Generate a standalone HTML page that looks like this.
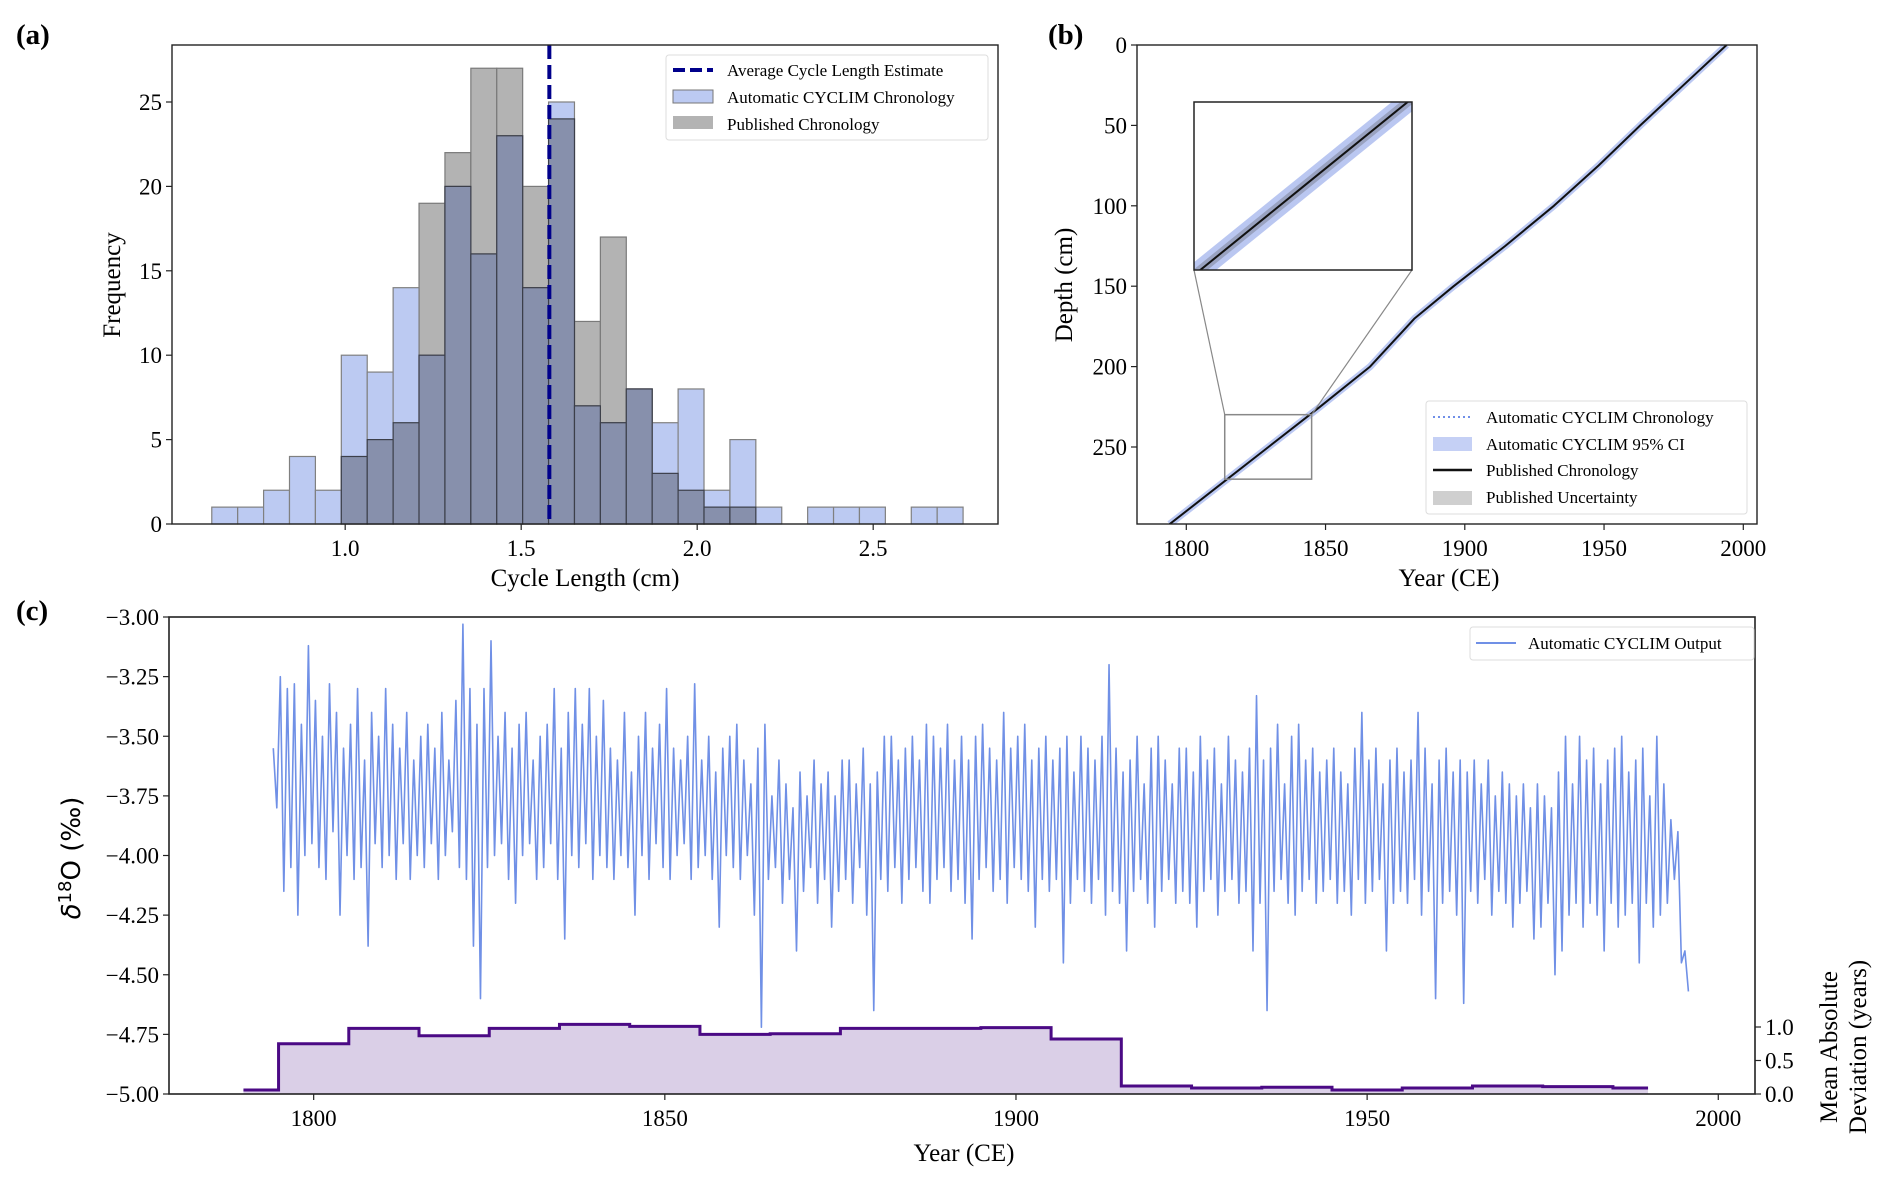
<!DOCTYPE html>
<html><head><meta charset="utf-8">
<style>
html,body{margin:0;padding:0;background:#fff;}
svg{display:block;font-family:"Liberation Serif",serif;}
</style></head>
<body>
<svg id="fig" width="1892" height="1182" viewBox="0 0 1892 1182"></svg>
<script>
// ---- Panel (a) data ----
const binStart = 0.621;
const binWidth = 0.0736;
const autoCounts = [1,1,2,4,2,10,9,14,10,20,16,23,14,25,7,6,8,6,8,2,5,1,0,1,1,1,0,1,1];
const pubCounts  = [0,0,0,0,0,4,5,6,19,22,27,27,20,24,12,17,8,3,2,1,1,0,0,0,0,0,0,0,0];
const avgCycle = 1.58;
const aXTicks = [1.0,1.5,2.0,2.5];
const aYTicks = [0,5,10,15,20,25];
// ---- Panel (b) data ----
const bDepths = [0,25,50,75,100,125,150,170,185,200,225,250,275,298];
const bYears  = [1994,1978.5,1963,1948,1932,1914.5,1896,1882,1874,1866,1848,1829.5,1811,1794];
const bXTicks = [1800,1850,1900,1950,2000];
const bYTicks = [0,50,100,150,200,250];
// ---- Panel (c) data ----
const cStartYear = 1794;
const yearHigh = [
-3.55,-3.25,-3.30,-3.28,-3.45,-3.12,-3.35,-3.50,-3.28,-3.40,
-3.55,-3.45,-3.30,-3.60,-3.40,-3.50,-3.30,-3.45,-3.55,-3.40,
-3.60,-3.50,-3.45,-3.55,-3.40,-3.60,-3.35,-3.03,-3.30,-3.45,
-3.30,-3.10,-3.50,-3.40,-3.55,-3.45,-3.40,-3.60,-3.50,-3.45,
-3.30,-3.55,-3.40,-3.30,-3.45,-3.30,-3.50,-3.35,-3.55,-3.60,
-3.40,-3.65,-3.50,-3.40,-3.55,-3.45,-3.30,-3.55,-3.60,-3.50,
-3.28,-3.60,-3.50,-3.65,-3.55,-3.50,-3.45,-3.60,-3.70,-3.55,
-3.45,-3.75,-3.60,-3.70,-3.80,-3.65,-3.75,-3.60,-3.70,-3.65,
-3.75,-3.60,-3.60,-3.70,-3.55,-3.70,-3.65,-3.50,-3.50,-3.60,
-3.55,-3.50,-3.60,-3.45,-3.50,-3.55,-3.45,-3.60,-3.50,-3.60,
-3.50,-3.45,-3.55,-3.60,-3.40,-3.55,-3.50,-3.45,-3.60,-3.55,
-3.50,-3.60,-3.55,-3.50,-3.65,-3.50,-3.55,-3.60,-3.50,-3.20,
-3.55,-3.65,-3.60,-3.50,-3.70,-3.55,-3.50,-3.60,-3.70,-3.55,
-3.55,-3.65,-3.50,-3.60,-3.55,-3.70,-3.50,-3.60,-3.65,-3.55,
-3.33,-3.60,-3.55,-3.45,-3.70,-3.50,-3.45,-3.60,-3.55,-3.65,
-3.60,-3.55,-3.65,-3.70,-3.55,-3.40,-3.60,-3.55,-3.70,-3.60,
-3.55,-3.65,-3.60,-3.40,-3.55,-3.70,-3.60,-3.55,-3.65,-3.60,
-3.65,-3.60,-3.70,-3.60,-3.75,-3.65,-3.70,-3.75,-3.70,-3.80,
-3.70,-3.75,-3.80,-3.65,-3.50,-3.70,-3.50,-3.60,-3.55,-3.70,
-3.60,-3.55,-3.50,-3.65,-3.60,-3.55,-3.75,-3.50,-3.70,-3.85,
-3.90,-4.40];
const yearLow = [
-3.80,-4.15,-4.05,-4.25,-4.00,-3.95,-4.05,-4.10,-3.90,-4.25,
-4.00,-4.10,-4.05,-4.38,-3.95,-4.05,-4.00,-4.10,-3.95,-4.10,
-4.00,-4.05,-3.95,-4.10,-4.00,-3.90,-4.05,-4.10,-4.38,-4.60,
-4.05,-4.00,-3.95,-4.10,-4.20,-4.00,-3.95,-4.10,-4.05,-3.95,
-4.10,-4.35,-4.00,-4.05,-3.95,-4.10,-4.00,-4.05,-4.10,-4.00,
-4.05,-4.25,-4.00,-4.10,-3.95,-4.05,-4.10,-4.00,-3.95,-4.10,
-4.05,-4.00,-4.10,-4.30,-4.00,-4.05,-4.10,-4.00,-4.25,-4.72,
-4.10,-4.05,-4.20,-4.10,-4.40,-4.15,-4.05,-4.20,-4.10,-4.30,
-4.15,-4.10,-4.20,-4.05,-4.25,-4.65,-4.10,-4.15,-4.05,-4.20,
-4.10,-4.05,-4.15,-4.20,-4.10,-4.05,-4.15,-4.10,-4.20,-4.35,
-4.10,-4.05,-4.15,-4.10,-4.20,-4.05,-4.10,-4.15,-4.30,-4.10,
-4.15,-4.10,-4.45,-4.20,-4.10,-4.15,-4.20,-4.10,-4.25,-4.15,
-4.20,-4.40,-4.15,-4.10,-4.20,-4.30,-4.15,-4.10,-4.20,-4.15,
-4.20,-4.30,-4.15,-4.10,-4.25,-4.15,-4.10,-4.20,-4.15,-4.40,
-4.20,-4.65,-4.15,-4.10,-4.20,-4.25,-4.15,-4.10,-4.20,-4.15,
-4.10,-4.20,-4.15,-4.25,-4.10,-4.20,-4.15,-4.10,-4.40,-4.20,
-4.15,-4.20,-4.10,-4.25,-4.15,-4.60,-4.20,-4.15,-4.25,-4.62,
-4.15,-4.20,-4.10,-4.25,-4.15,-4.20,-4.30,-4.20,-4.15,-4.35,
-4.30,-4.20,-4.50,-4.40,-4.25,-4.20,-4.30,-4.20,-4.25,-4.40,
-4.20,-4.30,-4.25,-4.20,-4.45,-4.20,-4.30,-4.25,-4.20,-4.10,
-4.45,-4.57];
const madEdges = [1790,1795,1805,1815,1825,1835,1845,1855,1865,1875,1885,1895,1905,1915,1925,1935,1945,1955,1965,1975,1985,1990];
const madValues = [0.06,0.75,0.98,0.87,0.98,1.04,1.01,0.89,0.90,0.98,0.98,0.99,0.82,0.12,0.09,0.10,0.06,0.09,0.12,0.11,0.09];
const cXTicks = [1800,1850,1900,1950,2000];
const cYTicks = [-3.00,-3.25,-3.50,-3.75,-4.00,-4.25,-4.50,-4.75,-5.00];
const cRTicks = [0.0,0.5,1.0];

const NS = "http://www.w3.org/2000/svg";
const svg = document.getElementById('fig');
function mk(tag, attrs, parent){
  const e = document.createElementNS(NS, tag);
  for (const k in attrs) e.setAttribute(k, attrs[k]);
  (parent||svg).appendChild(e);
  return e;
}
function txt(s, attrs, parent){ const e = mk('text', attrs, parent); e.textContent = s; return e; }

const A = {l:172,r:998,t:45,b:524};
const xA = v => A.l + (v-0.508)*352;
const yA = f => A.b - f*16.88;
const B = {l:1137,r:1757,t:45,b:524};
const xB = yr => B.l + (yr-1782.3)*2.785;
const yB = d => B.t + d*1.608;
const C = {l:169,r:1755,t:617,b:1094};
const xC = yr => C.l + (yr-1779.4)*7.023;
const yC = v => C.t + (-3 - v)*238.5;
const yR = m => C.b - m*67;

// ========== Panel (a) ==========
let e;
e = txt('(a)', {x:16,y:44,'font-size':29,'font-weight':'bold'});
 
const gA = mk('g',{});
 
for (let i=0;i<pubCounts.length;i++){
  if (!pubCounts[i]) continue;
  const x0 = xA(binStart+i*binWidth), x1 = xA(binStart+(i+1)*binWidth);
  e = mk('rect',{x:x0,y:yA(pubCounts[i]),width:x1-x0,height:yA(0)-yA(pubCounts[i]),fill:'#b3b3b3',stroke:'#7a7a7a','stroke-width':1.2},gA);
   
}
for (let i=0;i<autoCounts.length;i++){
  if (!autoCounts[i]) continue;
  const x0 = xA(binStart+i*binWidth), x1 = xA(binStart+(i+1)*binWidth);
  e = mk('rect',{x:x0,y:yA(autoCounts[i]),width:x1-x0,height:yA(0)-yA(autoCounts[i]),fill:'#bccaf2',stroke:'#808080','stroke-width':1.2},gA);
   
}
for (let i=0;i<autoCounts.length;i++){
  const m = Math.min(autoCounts[i],pubCounts[i]);
  if (!m) continue;
  const x0 = xA(binStart+i*binWidth), x1 = xA(binStart+(i+1)*binWidth);
  e = mk('rect',{x:x0,y:yA(m),width:x1-x0,height:yA(0)-yA(m),fill:'#8790ac',stroke:'#3c3f4a','stroke-width':1.2},gA);
   
}
e = mk('line',{x1:xA(avgCycle),x2:xA(avgCycle),y1:A.t,y2:A.b,stroke:'#00008b','stroke-width':4,'stroke-dasharray':'14,6'},gA);
 
e = mk('rect',{x:A.l,y:A.t,width:A.r-A.l,height:A.b-A.t,fill:'none',stroke:'#222','stroke-width':1.4},gA);
 
aXTicks.forEach(v=>{
  mk('line',{x1:xA(v),x2:xA(v),y1:A.b,y2:A.b+6,stroke:'#222','stroke-width':1.2},gA);
  e = txt(v.toFixed(1),{x:xA(v),y:A.b+32,'font-size':23,'text-anchor':'middle'},gA);
   
});
aYTicks.forEach(v=>{
  mk('line',{x1:A.l-6,x2:A.l,y1:yA(v),y2:yA(v),stroke:'#222','stroke-width':1.2},gA);
  e = txt(String(v),{x:A.l-10,y:yA(v)+8,'font-size':23,'text-anchor':'end'},gA);
   
});
e = txt('Cycle Length (cm)',{x:585,y:586,'font-size':25,'text-anchor':'middle'},gA);
 
e = txt('Frequency',{x:0,y:0,'font-size':25,'text-anchor':'middle',transform:'translate(120,285) rotate(-90)'},gA);
 
const lgA = mk('g',{},gA);
 
mk('rect',{x:666,y:55,width:322,height:85,rx:3,fill:'#fff','fill-opacity':0.85,stroke:'#ddd'},lgA);
mk('line',{x1:673,x2:713,y1:70,y2:70,stroke:'#00008b','stroke-width':4,'stroke-dasharray':'12,5'},lgA);
mk('rect',{x:673,y:90,width:40,height:13,fill:'#bccaf2',stroke:'#777'},lgA);
mk('rect',{x:673,y:116,width:40,height:13,fill:'#b3b3b3'},lgA);
e = txt('Average Cycle Length Estimate',{x:727,y:76,'font-size':17},lgA);
 
e = txt('Automatic CYCLIM Chronology',{x:727,y:103,'font-size':17},lgA);
 
e = txt('Published Chronology',{x:727,y:130,'font-size':17},lgA);
 

// ========== Panel (b) ==========
e = txt('(b)', {x:1048,y:44,'font-size':29,'font-weight':'bold'});
 
const gB = mk('g',{});
 
const defs = mk('defs',{});
const cp = mk('clipPath',{id:'clipB'},defs); mk('rect',{x:B.l,y:B.t,width:B.r-B.l,height:B.b-B.t},cp);
const cp2 = mk('clipPath',{id:'clipIn'},defs); mk('rect',{x:1194,y:102,width:218,height:168},cp2);
const ptsB = bDepths.map((d,i)=>xB(bYears[i])+','+yB(d)).join(' ');
const gBc = mk('g',{'clip-path':'url(#clipB)'},gB);
e = mk('polyline',{points:ptsB,fill:'none',stroke:'#9fb2ee','stroke-opacity':0.7,'stroke-width':7,'stroke-linejoin':'round'},gBc);
 
e = mk('polyline',{points:ptsB,fill:'none',stroke:'#111','stroke-width':2,'stroke-linejoin':'round'},gBc);
 
e = mk('rect',{x:B.l,y:B.t,width:B.r-B.l,height:B.b-B.t,fill:'none',stroke:'#222','stroke-width':1.4},gB);
 
bXTicks.forEach(v=>{
  mk('line',{x1:xB(v),x2:xB(v),y1:B.b,y2:B.b+6,stroke:'#222','stroke-width':1.2},gB);
  e = txt(String(v),{x:xB(v),y:B.b+32,'font-size':23,'text-anchor':'middle'},gB);
   
});
bYTicks.forEach(v=>{
  mk('line',{x1:B.l-6,x2:B.l,y1:yB(v),y2:yB(v),stroke:'#222','stroke-width':1.2},gB);
  e = txt(String(v),{x:B.l-10,y:yB(v)+8,'font-size':23,'text-anchor':'end'},gB);
   
});
e = txt('Year (CE)',{x:1449,y:586,'font-size':25,'text-anchor':'middle'},gB);
 
e = txt('Depth (cm)',{x:0,y:0,'font-size':25,'text-anchor':'middle',transform:'translate(1072,285) rotate(-90)'},gB);
 
const zx0=1813.8, zx1=1845, zd0=229.9, zd1=270;
e = mk('rect',{x:xB(zx0),y:yB(zd0),width:xB(zx1)-xB(zx0),height:yB(zd1)-yB(zd0),fill:'none',stroke:'#888','stroke-width':1.5},gB);
 
mk('line',{x1:1194,y1:270,x2:xB(zx0),y2:yB(zd0),stroke:'#888','stroke-width':1.2},gB);
mk('line',{x1:1412,y1:270,x2:xB(zx1),y2:yB(zd0),stroke:'#888','stroke-width':1.2},gB);
const xI = yr => 1194 + (yr-zx0)/(zx1-zx0)*218;
const yI = d => 102 + (d-zd0)/(zd1-zd0)*168;
mk('rect',{x:1194,y:102,width:218,height:168,fill:'#fff'},gB);
const gI = mk('g',{'clip-path':'url(#clipIn)'},gB);
const ptsI = bDepths.map((d,i)=>xI(bYears[i])+','+yI(d)).join(' ');
e = mk('polyline',{points:ptsI,fill:'none',stroke:'#a9b9ee','stroke-opacity':0.8,'stroke-width':20},gI);
 
e = mk('polyline',{points:ptsI,fill:'none',stroke:'#7d8497','stroke-opacity':0.55,'stroke-width':9},gI);
 
e = mk('polyline',{points:ptsI,fill:'none',stroke:'#111','stroke-width':2},gI);
 
e = mk('rect',{x:1194,y:102,width:218,height:168,fill:'none',stroke:'#222','stroke-width':1.5},gB);
 
const lgB = mk('g',{},gB);
 
mk('rect',{x:1426,y:401,width:321,height:113,rx:3,fill:'#fff','fill-opacity':0.85,stroke:'#ddd'},lgB);
mk('line',{x1:1433,x2:1472,y1:417,y2:417,stroke:'#6f8fe8','stroke-width':2,'stroke-dasharray':'2,3'},lgB);
mk('rect',{x:1433,y:437,width:39,height:14,fill:'#c5d0f5'},lgB);
mk('line',{x1:1433,x2:1472,y1:470,y2:470,stroke:'#111','stroke-width':2.5},lgB);
mk('rect',{x:1433,y:491,width:39,height:14,fill:'#cfcfcf'},lgB);
[['Automatic CYCLIM Chronology',423],['Automatic CYCLIM 95% CI',450],['Published Chronology',476],['Published Uncertainty',503]].forEach(p=>{
  e = txt(p[0],{x:1486,y:p[1],'font-size':17},lgB);
   
});

// ========== Panel (c) ==========
e = txt('(c)', {x:16,y:620,'font-size':29,'font-weight':'bold'});
 
const gC = mk('g',{});
 
let sp = [];
for (let i=0;i<madValues.length;i++){
  sp.push(xC(madEdges[i])+','+yR(madValues[i]));
  sp.push(xC(madEdges[i+1])+','+yR(madValues[i]));
}
const areaPts = xC(madEdges[0])+','+yR(0)+' '+sp.join(' ')+' '+xC(madEdges[madEdges.length-1])+','+yR(0);
e = mk('polygon',{points:areaPts,fill:'#dacfe7'},gC);
 
e = mk('polyline',{points:sp.join(' '),fill:'none',stroke:'#4b0a85','stroke-width':3},gC);
 
let lp = [];
for (let i=0;i<yearHigh.length;i++){
  lp.push(xC(cStartYear+i+0.25)+','+yC(yearHigh[i]));
  lp.push(xC(cStartYear+i+0.75)+','+yC(yearLow[i]));
}
e = mk('polyline',{points:lp.join(' '),fill:'none',stroke:'#7090e6','stroke-width':1.6,'stroke-linejoin':'round'},gC);
 
e = mk('rect',{x:C.l,y:C.t,width:C.r-C.l,height:C.b-C.t,fill:'none',stroke:'#222','stroke-width':1.6},gC);
 
cXTicks.forEach(v=>{
  mk('line',{x1:xC(v),x2:xC(v),y1:C.b,y2:C.b+6,stroke:'#222','stroke-width':1.2},gC);
  e = txt(String(v),{x:xC(v),y:C.b+32,'font-size':23,'text-anchor':'middle'},gC);
   
});
cYTicks.forEach(v=>{
  mk('line',{x1:C.l-6,x2:C.l,y1:yC(v),y2:yC(v),stroke:'#222','stroke-width':1.2},gC);
  e = txt('\u2212'+Math.abs(v).toFixed(2),{x:C.l-10,y:yC(v)+8,'font-size':23,'text-anchor':'end'},gC);
   
});
cRTicks.forEach(v=>{
  mk('line',{x1:C.r,x2:C.r+6,y1:yR(v),y2:yR(v),stroke:'#222','stroke-width':1.2},gC);
  e = txt(v.toFixed(1),{x:C.r+10,y:yR(v)+8,'font-size':23},gC);
   
});
e = txt('Year (CE)',{x:964,y:1161,'font-size':25,'text-anchor':'middle'},gC);
 
e = mk('text',{x:0,y:0,'font-size':26,'text-anchor':'middle','font-family':'DejaVu Sans, sans-serif',transform:'translate(80,858) rotate(-90)'},gC);
e.innerHTML = '<tspan font-style="italic">\u03b4</tspan><tspan dy="-9" font-size="18">18</tspan><tspan dy="9">O (\u2030)</tspan>';
 
e = txt('Mean Absolute',{x:0,y:0,'font-size':25,'text-anchor':'middle',transform:'translate(1837,1047) rotate(-90)'},gC);
 
e = txt('Deviation (years)',{x:0,y:0,'font-size':25,'text-anchor':'middle',transform:'translate(1866,1047) rotate(-90)'},gC);
 
const lgC = mk('g',{},gC);
 
mk('rect',{x:1470,y:627,width:284,height:33,rx:3,fill:'#fff','fill-opacity':0.85,stroke:'#ddd'},lgC);
mk('line',{x1:1476,x2:1516,y1:643,y2:643,stroke:'#7090e6','stroke-width':2},lgC);
e = txt('Automatic CYCLIM Output',{x:1528,y:649,'font-size':17},lgC);
 
</script>
</body></html>
